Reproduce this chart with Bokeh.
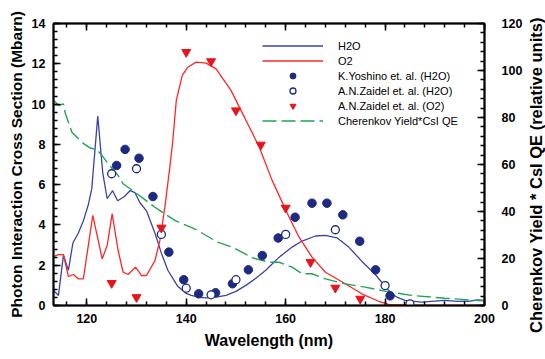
from bokeh.plotting import figure
from bokeh.layouts import row
from bokeh.models import (Range1d, LinearAxis, SingleIntervalTicker, Legend, LegendItem, Div)
from bokeh.embed import file_html
from bokeh.resources import INLINE

# ---------------- data ----------------
h2o_x = [113.3, 114.3, 115.3, 116.3, 117.2, 118.3, 119.3, 120.3, 121.0, 122.2, 123.2, 124.1, 125.2,
         126.2, 127.5, 128.7, 129.7, 130.7, 132.0, 133.7, 135.0, 136.3, 138.3, 140.0, 141.0, 142.7,
         144.0, 146.0, 148.0, 150.0, 152.0, 154.0, 156.0, 158.7, 161.3, 163.3, 166.0, 168.0, 170.3,
         172.7, 175.3, 178.0, 180.0, 181.3, 182.5, 184.0, 187.3, 190.0, 192.0, 194.5, 196.7, 198.7, 200.0]
h2o_y = [0.75, 0.5, 2.5, 1.75, 3.1, 3.6, 4.2, 5.0, 5.8, 9.4, 6.6, 5.3, 5.7,
         5.2, 5.4, 5.7, 5.6, 5.1, 4.7, 3.6, 2.6, 1.75, 0.95, 0.6, 0.5, 0.4,
         0.38, 0.42, 0.5, 0.7, 1.0, 1.35, 1.75, 2.4, 2.9, 3.2, 3.45, 3.48, 3.36,
         2.9, 2.2, 1.55, 0.95, 0.6, 0.4, 0.25, 0.17, 0.22, 0.25, 0.2, 0.21, 0.28, 0.25]

o2_x = [113.3, 114.3, 115.3, 116.3, 117.3, 118.3, 119.3, 121.2, 123.1, 124.1, 125.1, 126.3, 127.3,
        128.3, 129.8, 131.0, 132.0, 133.7, 134.7, 135.7, 136.7, 137.3, 138.0, 139.2, 140.3, 142.0,
        144.0, 146.0, 149.0, 151.7, 154.7, 157.3, 160.7, 162.7, 165.3, 168.0, 172.0, 175.3, 178.7,
        180.7, 185.0, 190.0, 200.0]
o2_y = [2.43, 2.53, 2.53, 1.44, 1.54, 1.32, 1.32, 4.47, 2.32, 2.98, 4.55, 2.73, 1.65,
        1.54, 1.9, 1.49, 1.49, 2.23, 3.23, 4.88, 6.87, 8.19, 10.18, 11.42, 11.83, 12.08,
        12.03, 11.75, 10.68, 9.35, 7.86, 6.2, 4.38, 3.39, 2.4, 1.65, 1.08, 0.58, 0.21,
        0.05, 0.02, 0.0, 0.0]

ch_x = [113.3, 114.3, 115.3, 115.7, 117.0, 119.3, 120.7, 122.0, 123.0, 124.3, 126.3, 127.3, 129.7,
        133.7, 137.7, 141.7, 146.3, 149.3, 153.3, 156.7, 158.7, 161.3, 163.3, 165.3, 168.0, 172.0,
        176.0, 180.0, 185.3, 192.0, 198.7, 200.0]
ch_y = [87.5, 85.1, 85.8, 81.6, 73.7, 69.0, 67.0, 66.4, 64.0, 60.3, 55.3, 51.8, 48.2,
        41.8, 36.2, 32.6, 27.0, 24.8, 20.3, 18.4, 18.4, 16.3, 13.5, 13.5, 11.3, 9.2,
        7.8, 6.1, 4.3, 3.1, 2.1, 2.0]

ky_x = [126.0, 127.7, 130.5, 133.3, 136.5, 139.5, 142.5, 145.9, 149.3, 152.5, 155.3, 158.5,
        161.9, 165.3, 168.3, 171.5, 174.9, 178.1, 181.0]
ky_y = [6.95, 7.75, 7.31, 5.41, 2.65, 1.28, 0.58, 0.63, 1.08, 1.77, 2.48, 3.35,
        4.38, 5.08, 5.08, 4.5, 3.19, 1.77, 0.48]

azh_x = [125, 130, 135, 140, 145, 150, 160, 170, 180, 185]
azh_y = [6.54, 6.79, 3.53, 0.86, 0.53, 1.28, 3.53, 3.76, 0.99, 0.08]

azo_x = [125, 130, 135, 140, 145, 150, 155, 160, 165, 170, 175]
azo_y = [1.11, 0.41, 3.86, 12.58, 12.12, 9.68, 7.98, 4.85, 2.15, 0.88, 0.33]

labels = ["H2O", "O2", "K.Yoshino et. al. (H2O)", "A.N.Zaidel et. al. (H2O)",
          "A.N.Zaidel et. al. (O2)", "Cherenkov Yield*CsI QE"]
right_title = "Cherenkov Yield * CsI QE (relative units)"

# ---------------- styles ----------------
FONT = "Liberation Sans"
BLUE = "#3b42a6"
NAVY = "#1e2a82"
RED = "#ff2626"
TRI = "#e8141c"
GREEN = "#22a552"

p = figure(width=525, height=359, x_range=Range1d(113.3, 200), y_range=Range1d(0, 14),
           output_backend="svg", toolbar_location=None,
           min_border_left=53, min_border_right=40, min_border_top=23, min_border_bottom=54)
p.extra_y_ranges = {"right": Range1d(0, 120)}
p.xgrid.visible = False
p.ygrid.visible = False
p.outline_line_color = "black"
p.outline_line_width = 1.5
p.background_fill_color = "white"
p.border_fill_color = "white"


def style(ax, label_size="12.5px"):
    ax.axis_line_width = 2
    ax.axis_line_color = "black"
    ax.major_tick_in = 7
    ax.major_tick_out = 0
    ax.minor_tick_in = 4
    ax.minor_tick_out = 0
    ax.major_tick_line_width = 1.5
    ax.minor_tick_line_width = 1.5
    ax.major_tick_line_color = "black"
    ax.minor_tick_line_color = "black"
    ax.major_label_text_font = FONT
    ax.major_label_text_font_style = "bold"
    ax.major_label_text_font_size = label_size
    ax.major_label_text_color = "black"
    ax.axis_label_text_font = FONT
    ax.axis_label_text_font_style = "bold"
    ax.axis_label_text_font_size = "15.5px"
    ax.axis_label_text_color = "black"


xa = p.xaxis[0]
style(xa)
xa.ticker = SingleIntervalTicker(interval=20, num_minor_ticks=5)
xa.major_label_standoff = 8
xa.axis_label = "Wavelength (nm)"
xa.axis_label_text_font_size = "16px"
xa.axis_label_standoff = 6

ya = p.yaxis[0]
style(ya)
ya.ticker = SingleIntervalTicker(interval=2, num_minor_ticks=5)
ya.major_label_standoff = 8
ya.axis_label = "Photon Interaction Cross Section (Mbarn)"
ya.axis_label_standoff = 4

top = LinearAxis(ticker=SingleIntervalTicker(interval=20, num_minor_ticks=5))
style(top, "1px")
top.major_label_text_color = None
top.major_label_standoff = 0
p.add_layout(top, "above")

ra = LinearAxis(y_range_name="right", ticker=SingleIntervalTicker(interval=20, num_minor_ticks=5))
style(ra)
ra.major_label_standoff = 17
p.add_layout(ra, "right")

# ---------------- glyphs ----------------
r_h2o = p.line(h2o_x, h2o_y, line_color=BLUE, line_width=1.3)
r_o2 = p.line(o2_x, o2_y, line_color=RED, line_width=1.3)
r_ch = p.line(ch_x, ch_y, y_range_name="right", line_color=GREEN, line_width=1.4, line_dash="14 5")
r_ky = p.scatter(ky_x, ky_y, marker="circle", size=8.5, fill_color=NAVY, line_color=NAVY)
r_azh = p.scatter(azh_x, azh_y, marker="circle", size=8, fill_color="white", line_color=NAVY,
                  line_width=1.3)
r_azo = p.scatter(azo_x, azo_y, marker="inverted_triangle", size=9, fill_color=TRI, line_color=TRI)

legend = Legend(items=[LegendItem(label=labels[0], renderers=[r_h2o]),
                       LegendItem(label=labels[1], renderers=[r_o2]),
                       LegendItem(label=labels[2], renderers=[r_ky]),
                       LegendItem(label=labels[3], renderers=[r_azh]),
                       LegendItem(label=labels[4], renderers=[r_azo]),
                       LegendItem(label=labels[5], renderers=[r_ch])],
                location=(209, 177), padding=0, margin=0, spacing=0,
                glyph_width=61, glyph_height=15, label_height=15, label_standoff=15,
                label_text_font=FONT, label_text_font_size="11px", label_text_color="black",
                border_line_alpha=0, background_fill_alpha=0)
p.add_layout(legend)

# right-hand title, reading bottom-to-top, in a narrow strip beside the plot
title_html = ('<div style="position:relative;top:28px;left:3px;height:305px;width:17px;'
              'writing-mode:vertical-rl;transform:rotate(180deg);text-align:start;'
              "font-family:'Liberation Sans';font-weight:bold;font-size:16.5px;line-height:17px;"
              'white-space:nowrap;color:black;">' + right_title + '</div>')
strip = Div(text=title_html, width=20, height=359, margin=0)

layout = row(p, strip)
open("out.html", "w").write(file_html(layout, INLINE))
